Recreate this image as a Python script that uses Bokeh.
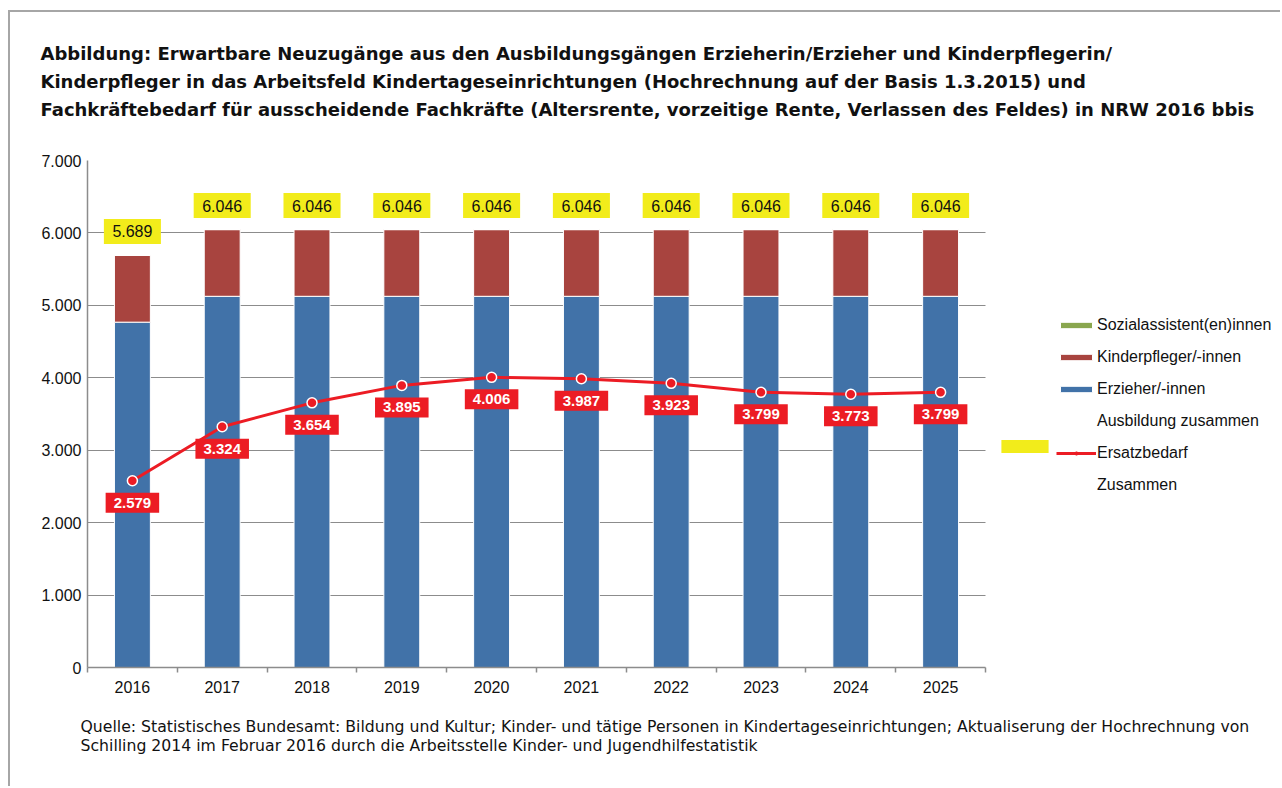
from bokeh.plotting import figure
from bokeh.models import (ColumnDataSource, Range1d, FixedTicker,
                          Legend, LegendItem, Title)
from bokeh.embed import file_html
from bokeh.resources import INLINE
from bokeh.core.properties import value

years = ["2016", "2017", "2018", "2019", "2020", "2021", "2022", "2023", "2024", "2025"]
erzieher = [4768, 5125, 5125, 5125, 5125, 5125, 5125, 5125, 5125, 5125]
kinderpfleger = [921, 921, 921, 921, 921, 921, 921, 921, 921, 921]
sozialassistent = [0, 0, 0, 0, 0, 0, 0, 0, 0, 0]
ausbildung_zusammen = [5689, 6046, 6046, 6046, 6046, 6046, 6046, 6046, 6046, 6046]
ersatzbedarf = [2579, 3324, 3654, 3895, 4006, 3987, 3923, 3799, 3773, 3799]
y_ticks = [0, 1000, 2000, 3000, 4000, 5000, 6000, 7000]
y_tick_labels = ["0", "1.000", "2.000", "3.000", "4.000", "5.000", "6.000", "7.000"]

title_lines = [
    "Abbildung: Erwartbare Neuzugänge aus den Ausbildungsgängen Erzieherin/Erzieher und Kinderpflegerin/",
    "Kinderpfleger in das Arbeitsfeld Kindertageseinrichtungen (Hochrechnung auf der Basis 1.3.2015) und",
    "Fachkräftebedarf für ausscheidende Fachkräfte (Altersrente, vorzeitige Rente, Verlassen des Feldes) in NRW 2016 bbis",
]
source_lines = [
    "Quelle: Statistisches Bundesamt: Bildung und Kultur; Kinder- und tätige Personen in Kindertageseinrichtungen; Aktualiserung der Hochrechnung von",
    "Schilling 2014 im Februar 2016 durch die Arbeitsstelle Kinder- und Jugendhilfestatistik",
]

def de_fmt(v):
    return f"{v:,}".replace(",", ".")

BLUE = "#4172A8"
RED = "#A8443F"
GREEN = "#89A64E"
YELLOW = "#F2EC1B"
LINE_RED = "#EC1C24"
GRID = "#8C8C8C"
ARIAL = "Liberation Sans"
DOC_FONT = "DejaVu Sans"

xpos = list(range(len(years)))
n = len(years)

src = ColumnDataSource(dict(
    x=xpos,
    erzieher=erzieher,
    kinderpfleger=kinderpfleger,
    sozialassistent=sozialassistent,
    total=ausbildung_zusammen,
    total_lbl=[de_fmt(v) for v in ausbildung_zusammen],
    ersatz=ersatzbedarf,
    ersatz_lbl=[de_fmt(v) for v in ersatzbedarf],
))

# frame spans the whole width to host the legend; categories fill the left part
cat_px = 89.8
frame_px = 1280 - 87
p = figure(x_range=Range1d(-0.5, -0.5 + frame_px / cat_px), y_range=Range1d(0, 7000),
           width=1280, height=786, output_backend="svg", toolbar_location=None,
           min_border_left=87, min_border_right=0, min_border_top=159, min_border_bottom=119,
           background_fill_color="white", border_fill_color=None)
p.outline_line_color = None
p.styles = {"background": "linear-gradient(#a6a6a6, #a6a6a6) 8px 10px / 2px 100% no-repeat, "
                          "linear-gradient(#a6a6a6, #a6a6a6) 8px 10px / 100% 2px no-repeat, white"}

bars = p.vbar_stack(["erzieher", "kinderpfleger", "sozialassistent"], x="x", width=0.4,
                    source=src, color=[BLUE, RED, GREEN], line_color="white", line_width=1)

yellow_r = p.vbar(x="x", top="total", width=0, source=src, fill_color=YELLOW, line_alpha=0)

line_r = p.line(x="x", y="ersatz", source=src, line_color=LINE_RED, line_width=3)
pts_r = p.scatter(x="x", y="ersatz", source=src, size=10, fill_color=LINE_RED,
                  line_color="white", line_width=1.5)
pts_leg = p.scatter(x="x", y="ersatz", source=src, size=0, fill_color=LINE_RED,
                    line_color=LINE_RED, line_width=1)

p.text(x="x", y="total", text="total_lbl", source=src, y_offset=-24,
       text_align="center", text_baseline="middle",
       background_fill_color=YELLOW, border_line_color=YELLOW, border_line_width=7,
       border_line_join="miter",
       padding=dict(left=5, right=5, top=3, bottom=3),
       text_font=value(ARIAL), text_font_size="16px", text_color="#111111")
p.text(x="x", y="ersatz", text="ersatz_lbl", source=src, y_offset=22,
       text_align="center", text_baseline="middle",
       background_fill_color=LINE_RED, border_line_color=LINE_RED,
       border_line_width=6, border_line_join="miter",
       padding=dict(left=5, right=5, top=2, bottom=2),
       text_font=value(ARIAL), text_font_size="15px",
       text_font_style="bold", text_color="white")

# axes
p.xgrid.grid_line_color = None
p.ygrid.grid_line_color = GRID
p.ygrid.ticker = FixedTicker(ticks=y_ticks)
p.ygrid.cross_bounds = (-0.5, n - 0.5)
p.yaxis.ticker = FixedTicker(ticks=y_ticks)
p.yaxis.major_label_overrides = {t: l for t, l in zip(y_ticks, y_tick_labels)}
p.xaxis.ticker = FixedTicker(ticks=xpos, minor_ticks=[i - 0.5 for i in range(n + 1)])
p.xaxis.major_label_overrides = {i: y for i, y in zip(xpos, years)}
p.xaxis.bounds = (-0.5, n - 0.5)
for ax in (p.xaxis[0], p.yaxis[0]):
    ax.axis_line_color = GRID
    ax.axis_line_width = 1.5
    ax.major_tick_line_color = GRID
    ax.minor_tick_line_color = GRID
    ax.major_label_text_font = ARIAL
    ax.major_label_text_font_size = "16px"
    ax.major_label_text_color = "#111111"
p.yaxis.major_tick_out = 0
p.yaxis.major_tick_in = 0
p.yaxis.minor_tick_line_color = None
p.yaxis.major_label_standoff = 6
p.xaxis.major_tick_out = 0
p.xaxis.major_tick_in = 0
p.xaxis.minor_tick_out = 5
p.xaxis.minor_tick_in = 0
p.xaxis.minor_tick_line_width = 1.5
p.xaxis.major_label_standoff = 8

# legend (bokeh draws area swatches inset by 10 %)
legend = Legend(items=[
    LegendItem(label="Sozialassistent(en)innen", renderers=[bars[2]]),
    LegendItem(label="Kinderpfleger/-innen", renderers=[bars[1]]),
    LegendItem(label="Erzieher/-innen", renderers=[bars[0]]),
    LegendItem(label="Ausbildung zusammen", renderers=[p.scatter(x="x", y="total", source=src, size=0, alpha=0)]),
    LegendItem(label="Ersatzbedarf", renderers=[line_r, pts_leg]),
    LegendItem(label="Zusammen", renderers=[p.scatter(x="x", y="total", source=src, size=0, alpha=0)]),
], location=(969, 172), padding=0, margin=0, border_line_alpha=0, background_fill_alpha=0,
    glyph_width=40, glyph_height=8, label_height=20, spacing=12, label_standoff=1,
    label_text_font=ARIAL, label_text_font_size="16px", label_text_color="#111111")
p.add_layout(legend)

legend2 = Legend(items=[LegendItem(label=" ", renderers=[yellow_r])],
                 location=(908, 213), padding=0, margin=0, border_line_alpha=0,
                 background_fill_alpha=0, glyph_width=59, glyph_height=16, label_height=13,
                 label_standoff=0, label_text_font_size="8px")
p.add_layout(legend2)

# title
p.title.text = "\n".join(title_lines)
p.title.text_font = DOC_FONT
p.title.text_font_size = "18px"
p.title.text_font_style = "bold"
p.title.text_line_height = 1.34
p.title.text_color = "#111111"
p.title.align = "left"
p.title.offset = -47
p.title.standoff = 81

p.add_layout(Title(text="\n".join(source_lines), text_font=DOC_FONT, text_font_size="15.7px",
                   text_font_style="normal", align="left", offset=-7, standoff=38,
                   text_line_height=1.05, text_color="#111111"), "below")

open("out.html", "w").write(file_html(p, INLINE))
